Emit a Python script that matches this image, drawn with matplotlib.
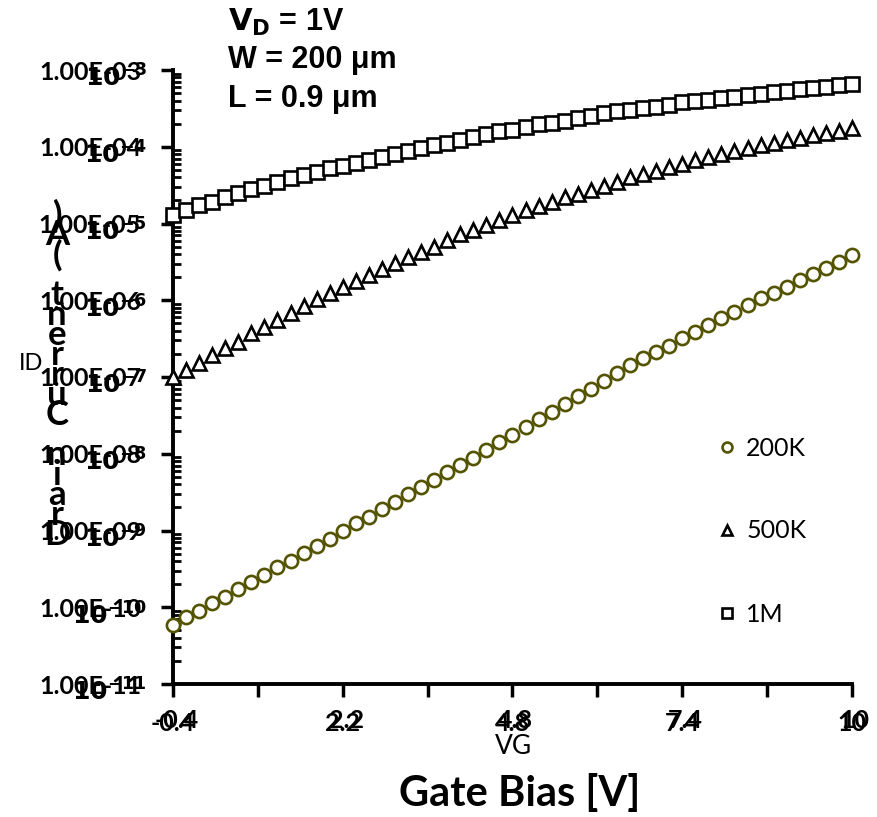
import numpy as np
import matplotlib
matplotlib.use('Agg')
import matplotlib.pyplot as plt
from matplotlib.ticker import FixedLocator, LogLocator, NullFormatter

# gate bias sweep, 0.2 V steps
vg = np.round(np.arange(-0.4, 10.01, 0.2), 1)

# log10 of drain current
log_id_200k = [-10.23, -10.13, -10.05, -9.94, -9.87, -9.76, -9.67, -9.58, -9.48, -9.40,
               -9.29, -9.20, -9.11, -9.01, -8.90, -8.82, -8.72, -8.63, -8.52, -8.43,
               -8.34, -8.24, -8.15, -8.05, -7.95, -7.85, -7.75, -7.65, -7.55, -7.45,
               -7.35, -7.25, -7.15, -7.05, -6.95, -6.85, -6.75, -6.67, -6.60, -6.49,
               -6.41, -6.32, -6.23, -6.15, -6.06, -5.97, -5.91, -5.83, -5.74, -5.66,
               -5.58, -5.50, -5.41]
log_id_500k = [-7.00, -6.91, -6.82, -6.71, -6.62, -6.54, -6.43, -6.35, -6.26, -6.17,
               -6.07, -5.98, -5.91, -5.83, -5.75, -5.67, -5.59, -5.51, -5.44, -5.37,
               -5.31, -5.21, -5.14, -5.08, -5.02, -4.95, -4.89, -4.82, -4.77, -4.72,
               -4.66, -4.61, -4.56, -4.51, -4.46, -4.40, -4.36, -4.31, -4.26, -4.22,
               -4.17, -4.14, -4.10, -4.06, -4.02, -3.98, -3.95, -3.91, -3.88, -3.85,
               -3.82, -3.79, -3.76]
log_id_1m = [-4.89, -4.82, -4.76, -4.72, -4.65, -4.60, -4.55, -4.51, -4.46, -4.41,
             -4.37, -4.33, -4.28, -4.25, -4.21, -4.17, -4.13, -4.09, -4.06, -4.02,
             -3.98, -3.95, -3.91, -3.87, -3.83, -3.80, -3.78, -3.74, -3.71, -3.69,
             -3.66, -3.63, -3.60, -3.56, -3.54, -3.52, -3.50, -3.48, -3.46, -3.42,
             -3.40, -3.39, -3.37, -3.35, -3.33, -3.31, -3.29, -3.27, -3.25, -3.23,
             -3.22, -3.20, -3.18]

series_labels = ['200K', '500K', '1M']
x_ticks = [-0.4, 2.2, 4.8, 7.4, 10]
x_minor = [0.9, 3.5, 6.1, 8.7]
y_exps = list(range(-11, -2))

W, H = 878, 817
fig = plt.figure(figsize=(W / 100, H / 100), dpi=100)
ax = fig.add_axes([173 / W, 1 - 684 / H, (852 - 173) / W, (684 - 70) / H])

def px(x, y):
    return x / W, 1 - y / H

olive = '#545400'
mk = dict(linestyle='none', markerfacecolor='white', markeredgewidth=1.9, clip_on=False, zorder=3)
ax.plot(vg, 10.0 ** np.array(log_id_200k), marker='o', markersize=9.5,
        markeredgecolor=olive, label=series_labels[0], **mk)
ax.plot(vg, 10.0 ** np.array(log_id_500k), marker='^', markersize=10.5,
        markeredgecolor='black', label=series_labels[1], **mk)
ax.plot(vg, 10.0 ** np.array(log_id_1m), marker='s', markersize=10,
        markeredgecolor='black', label=series_labels[2], **mk)

ax.set_yscale('log')
ax.set_xlim(-0.4, 10)
ax.set_ylim(1e-11, 1e-3)

for s in ['top', 'right']:
    ax.spines[s].set_visible(False)
for s in ['left', 'bottom']:
    ax.spines[s].set_linewidth(2.8)

ax.xaxis.set_major_locator(FixedLocator(x_ticks))
ax.xaxis.set_minor_locator(FixedLocator(x_minor))
ax.set_xticklabels([f'{t:g}' for t in x_ticks], fontsize=18,
                   fontweight='bold', family='Lato')
ax.tick_params(axis='x', which='both', direction='out', length=9, width=2.5, pad=11)

ax.yaxis.set_major_locator(FixedLocator([10.0 ** e for e in y_exps]))
ax.yaxis.set_minor_locator(LogLocator(base=10, subs=np.arange(2, 10), numticks=20))
ax.yaxis.set_minor_formatter(NullFormatter())
ax.set_yticklabels([f'{10.0 ** e:.2E}' for e in y_exps], fontsize=18, fontweight='bold',
                   family='Lato')
ax.tick_params(axis='y', which='major', direction='out', length=9, width=2.5, pad=14)
ax.tick_params(axis='y', which='minor', direction='in', length=6, width=2)

# second, slightly shifted copies of the tick labels
ytr = matplotlib.transforms.blended_transform_factory(fig.transFigure, ax.transData)
for e in y_exps:
    ax.text(147 / W, 10.0 ** e * 0.78, r'$\mathbf{10^{%d}}$' % e, transform=ytr,
            ha='right', va='center', fontsize=18)
xtr = matplotlib.transforms.blended_transform_factory(ax.transData, fig.transFigure)
for t in x_ticks:
    ax.text(t + 0.05, 1 - 721 / H, f'{t:g}', transform=xtr, ha='center', va='center',
            fontsize=18, fontweight='bold', family='Lato', clip_on=False)

fig.text(*px(513, 746), 'VG', ha='center', va='center', fontsize=19, family='Lato')
fig.text(*px(520, 793), 'Gate Bias [V]', ha='center', va='center', fontsize=30,
         fontweight='bold', family='Lato')
fig.text(*px(31, 363), 'ID', ha='center', va='center', fontsize=17, family='Lato')

# stacked upright letters of the y title, read bottom to top
ytitle = 'Drain Current (A)'
for i, ch in enumerate(ytitle):
    if ch != ' ':
        fig.text(*px(57, 535 - i * 20), ch, ha='center', va='center', fontsize=25,
                 fontweight='bold', family='Lato')

fig.text(*px(228, 22), r'$\mathbf{V_D}$ = 1V', ha='left', va='center', fontsize=22,
         fontweight='bold', family='Liberation Sans')
fig.text(*px(228, 60), 'W = 200 μm', ha='left', va='center', fontsize=22,
         fontweight='bold', family='Liberation Sans')
fig.text(*px(228, 99), 'L = 0.9 μm', ha='left', va='center', fontsize=22,
         fontweight='bold', family='Liberation Sans')

leg = ax.legend(loc='upper left', bbox_to_anchor=(690 / W, 1 - 414 / H), bbox_transform=fig.transFigure,
                frameon=False, prop={'family': 'Lato', 'size': 18}, markerscale=0.75,
                labelspacing=2.4, handletextpad=0.15, handlelength=1.2)

fig.savefig('out.png', dpi=100)
